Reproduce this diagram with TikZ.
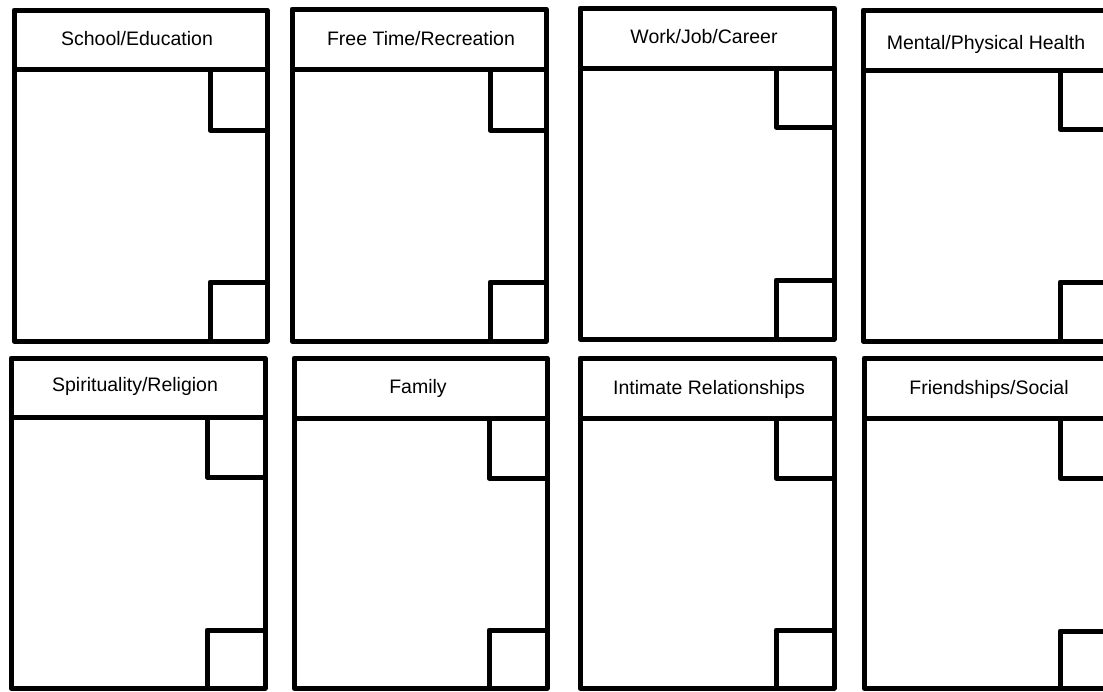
\documentclass[tikz,border=0pt]{standalone}
\usepackage{fontspec}
\setmainfont{Liberation Sans}
\newcommand\lifebox[8]{%
  \draw[boxline] (#1,#3) rectangle (#2,#5);
  \draw[boxline] (#1,#4) -- (#2,#4);
  \draw[boxline] (#2,#7) -| (#6,#4);
  \draw[boxline] (#2,#8) -| (#6,#5);
}
\begin{document}
\begin{tikzpicture}[x=1pt,y=-1pt,
  boxline/.style={line width=5pt,line join=round,draw=black},
  title/.style={anchor=base,inner sep=0pt,font=\fontsize{19.5}{22}\selectfont,text=black}]
\clip (0,0) rectangle (1103,691);
\fill[white] (0,0) rectangle (1103,691);
% row 1
\lifebox{14}{267}{10}{69}{341}{210}{130}{282}
\lifebox{292}{546}{9}{69}{341}{490}{130}{282}
\lifebox{580}{834}{8}{68}{339}{776}{127}{280}
\lifebox{863}{1117}{10}{70}{341}{1060}{129}{282}
% row 2
\lifebox{11}{265}{358}{417}{688}{207}{477}{630}
\lifebox{294}{547}{358}{418}{688}{489}{478}{630}
\lifebox{580}{834}{358}{418}{688}{776}{478}{630}
\lifebox{864}{1118}{358}{418}{688}{1060}{478}{631}
% titles
\node[title] (school) at (137,45) {School/Education};
\node[title] (free) at (421,45) {Free Time/Recreation};
\node[title] (work) at (704,43) {Work/Job/Career};
\node[title] (health) at (986,49) {Mental/Physical Health};
\node[title] (spirit) at (135,391) {Spirituality/Religion};
\node[title] (family) at (418,393) {Family};
\node[title] (intimate) at (709,394) {Intimate Relationships};
\node[title] (friends) at (989,394) {Friendships/Social};
\end{tikzpicture}
\end{document}
